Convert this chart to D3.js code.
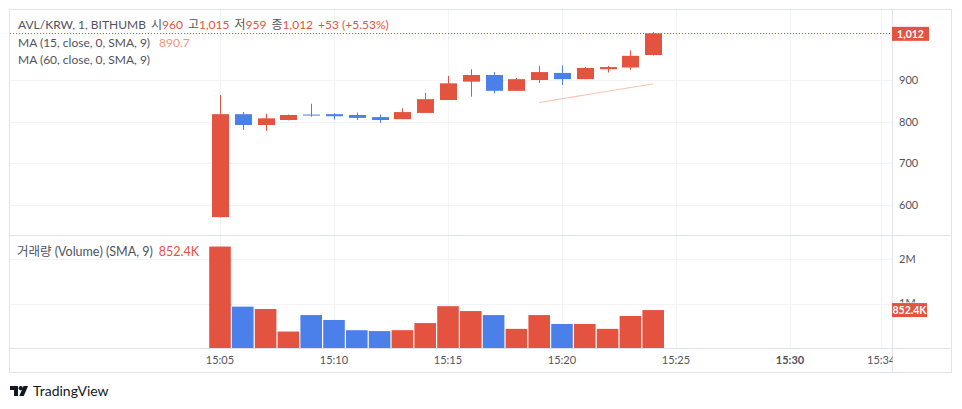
<!DOCTYPE html>
<html><head><meta charset="utf-8">
<script src="https://cdn.jsdelivr.net/npm/d3@7"></script>
<style>body{margin:0;background:#fff} svg{display:block}</style>
</head><body><svg id="c" width="962" height="409"></svg>
<script>
// ---- data ----
const times = ["15:05","15:06","15:07","15:08","15:09","15:10","15:11","15:12","15:13","15:14",
               "15:15","15:16","15:17","15:18","15:19","15:20","15:21","15:22","15:23","15:24"];
const openP  = [571,818,792,804,817,818,816,811,806,821,852,896,912,874,900,917,902,926,930,960];
const highP  = [864,823,819,817,843,820,822,817,832,869,910,926,919,905,934,935,931,934,971,1015];
const lowP   = [570,780,778,803,812,805,804,797,806,821,852,860,868,874,893,888,902,918,924,959];
const closeP = [818,792,808,816,815,813,809,804,823,854,892,912,874,902,919,902,929,931,958,1012];
const volume = [2280000,930000,876000,370000,740000,630000,400000,380000,400000,560000,
                940000,830000,740000,430000,740000,540000,540000,430000,720000,852400];
const maTimes = ["15:19","15:20","15:21","15:22","15:23","15:24"];
const ma15    = [846,855,864,873,882,890.7];
const priceTicks = [600,700,800,900];
const volTicks = [1000000,2000000];
const timeTicks = ["15:05","15:10","15:15","15:20","15:25","15:30","15:34"];
const boldTicks = ["15:30"];

// ---- setup ----
const UP = "#e4533f", DOWN = "#4b80ea", TXT = "#50535e", GRID = "#f2f3f5", BORDER = "#e0e3eb";
const FONT = "Lato, 'Noto Sans CJK KR', sans-serif";
const parseT = s => { const [h,m] = s.split(":").map(Number); return new Date(2024,0,1,h,m); };
const svg = d3.select("#c");

const frame = {l:9.5, t:9.5, r:951.5, b:372.5};
const axisX = 892.5;
const pricePane = {t:10, b:235.5};
const volPane = {t:236, b:348};

const x = d3.scaleTime().domain([parseT("15:05"), parseT("15:30")]).range([220, 790]);
const slot = x(parseT("15:06")) - x(parseT("15:05"));
const y = d3.scaleLinear().domain([600, 900]).range([205, 80]);
const yv = d3.scaleLinear().domain([0, 2000000]).range([348, 259]);

// clip paths
const defs = svg.append("defs");
defs.append("clipPath").attr("id","cp").append("rect").attr("x",10).attr("y",pricePane.t).attr("width",axisX-10).attr("height",pricePane.b-pricePane.t);
defs.append("clipPath").attr("id","cv").append("rect").attr("x",10).attr("y",volPane.t).attr("width",axisX-10).attr("height",volPane.b-volPane.t);
defs.append("clipPath").attr("id","ct").append("rect").attr("x",10).attr("y",348).attr("width",axisX-10).attr("height",24);
defs.append("clipPath").attr("id","c1m").append("rect").attr("x",893).attr("y",290).attr("width",50).attr("height",12.5);

// grid
const gP = svg.append("g").attr("clip-path","url(#cp)");
gP.selectAll("line.h").data(priceTicks).join("line")
  .attr("x1",10).attr("x2",axisX).attr("y1",d=>Math.round(y(d))+0.5).attr("y2",d=>Math.round(y(d))+0.5)
  .attr("stroke",GRID);
const gV = svg.append("g").attr("clip-path","url(#cv)");
gV.selectAll("line.h").data(volTicks).join("line")
  .attr("x1",10).attr("x2",axisX).attr("y1",d=>Math.round(yv(d))+0.5).attr("y2",d=>Math.round(yv(d))+0.5)
  .attr("stroke",GRID);
[gP, gV].forEach((g,i) => {
  g.selectAll("line.v").data(timeTicks).join("line")
    .attr("x1",d=>Math.round(x(parseT(d)))+0.5).attr("x2",d=>Math.round(x(parseT(d)))+0.5)
    .attr("y1", i===0 ? pricePane.t : volPane.t).attr("y2", i===0 ? pricePane.b : volPane.b)
    .attr("stroke",GRID);
});

// frame and separators
svg.append("rect").attr("x",frame.l).attr("y",frame.t).attr("width",frame.r-frame.l).attr("height",frame.b-frame.t)
  .attr("fill","none").attr("stroke",BORDER);
svg.append("line").attr("x1",axisX).attr("x2",axisX).attr("y1",frame.t).attr("y2",frame.b).attr("stroke",BORDER);
svg.append("line").attr("x1",frame.l).attr("x2",frame.r).attr("y1",235.5).attr("y2",235.5).attr("stroke",BORDER);
svg.append("line").attr("x1",frame.l).attr("x2",frame.r).attr("y1",348.5).attr("y2",348.5).attr("stroke",BORDER);

// candles
const data = times.map((t,i)=>({t:parseT(t), o:openP[i], h:highP[i], l:lowP[i], c:closeP[i], v:volume[i]}));
const col = d => d.c >= d.o ? UP : DOWN;
const bodyW = 17;
const cg = gP.append("g");
cg.selectAll("line.wick").data(data).join("line")
  .attr("x1",d=>Math.round(x(d.t))+0.5).attr("x2",d=>Math.round(x(d.t))+0.5)
  .attr("y1",d=>y(d.h)).attr("y2",d=>y(d.l)).attr("stroke",col);
cg.selectAll("rect").data(data).join("rect")
  .attr("x",d=>Math.round(x(d.t))-8).attr("width",bodyW)
  .attr("y",d=>y(Math.max(d.o,d.c))).attr("height",d=>Math.max(1,Math.abs(y(d.o)-y(d.c))))
  .attr("fill",col);

// MA line
const maData = maTimes.map((t,i)=>({t:parseT(t), v:ma15[i]}));
gP.append("path").datum(maData)
  .attr("d", d3.line().x(d=>x(d.t)).y(d=>y(d.v)).curve(d3.curveMonotoneX))
  .attr("fill","none").attr("stroke","#f9c2b2").attr("stroke-width",1.1);

// last price dotted line
const last = data[data.length-1];
svg.append("line").attr("x1",10).attr("x2",axisX).attr("y1",Math.round(y(last.c))+0.5).attr("y2",Math.round(y(last.c))+0.5)
  .attr("stroke",UP).attr("stroke-dasharray","1,2");

// volume bars
gV.selectAll("rect").data(data).join("rect")
  .attr("x",d=>x(d.t)-slot/2+0.6).attr("width",slot-1.2)
  .attr("y",d=>yv(d.v)).attr("height",d=>yv(0)-yv(d.v)).attr("fill",col);

// price axis labels
svg.append("g").selectAll("text").data(priceTicks).join("text")
  .attr("x",899).attr("y",d=>y(d)).attr("dy","0.35em").text(d=>d)
  .attr("font-family",FONT).attr("font-size",11).attr("fill",TXT);
// 2M label fully, 1M label partially hidden behind the volume badge (as in reference)
svg.append("text").attr("x",899).attr("y",yv(volTicks[1])).attr("dy","0.35em").text(d3.format("~s")(volTicks[1]))
  .attr("font-family",FONT).attr("font-size",11).attr("fill",TXT);
svg.append("text").attr("x",899).attr("y",yv(volTicks[0])).attr("dy","0.35em").text(d3.format("~s")(volTicks[0]))
  .attr("clip-path","url(#c1m)")
  .attr("font-family",FONT).attr("font-size",11).attr("fill",TXT);

// last price badge
const fmt = d3.format(",");
svg.append("rect").attr("x",892).attr("y",y(last.c)-6.5).attr("width",37).attr("height",14).attr("fill",UP);
svg.append("text").attr("x",910.5).attr("y",y(last.c)+0.5).attr("dy","0.35em").attr("text-anchor","middle")
  .text(fmt(last.c)).attr("font-family",FONT).attr("font-size",10.5).attr("font-weight","bold").attr("fill","#fff");
// volume badge
const vfmt = v => (v/1000).toFixed(1)+"K";
svg.append("rect").attr("x",892).attr("y",yv(last.v)-7).attr("width",35).attr("height",14).attr("fill",UP);
svg.append("text").attr("x",909.5).attr("y",yv(last.v)).attr("dy","0.35em").attr("text-anchor","middle")
  .text(vfmt(last.v)).attr("font-family",FONT).attr("font-size",10.5).attr("font-weight","bold").attr("fill","#fff");

// time axis
svg.append("g").attr("clip-path","url(#ct)").selectAll("text").data(timeTicks).join("text")
  .attr("x",d=>x(parseT(d))).attr("y",360).attr("dy","0.35em").attr("text-anchor","middle").text(d=>d)
  .attr("font-family",FONT).attr("font-size",11).attr("fill",TXT)
  .attr("font-weight",d=>boldTicks.includes(d)?"bold":"normal");

// legend texts
const leg = svg.append("text").attr("x",18).attr("y",25).attr("dy","0.35em")
  .attr("font-family",FONT).attr("font-size",12).attr("fill",TXT);
leg.append("tspan").text("AVL/KRW, 1, BITHUMB");
leg.append("tspan").attr("dx",5).text("시");
leg.append("tspan").attr("fill",UP).text(fmt(last.o));
leg.append("tspan").attr("dx",5).text("고");
leg.append("tspan").attr("fill",UP).text(fmt(last.h));
leg.append("tspan").attr("dx",5).text("저");
leg.append("tspan").attr("fill",UP).text(fmt(last.l));
leg.append("tspan").attr("dx",5).text("종");
leg.append("tspan").attr("fill",UP).text(fmt(last.c));
leg.append("tspan").attr("dx",5).attr("fill",UP).text("+53 (+5.53%)");

const l2 = svg.append("text").attr("x",18).attr("y",42.5).attr("dy","0.35em")
  .attr("font-family",FONT).attr("font-size",12).attr("fill",TXT);
l2.append("tspan").text("MA (15, close, 0, SMA, 9)");
l2.append("tspan").attr("dx",9).attr("fill","#f0937a").text(ma15[ma15.length-1]);
svg.append("text").attr("x",18).attr("y",60).attr("dy","0.35em")
  .attr("font-family",FONT).attr("font-size",12).attr("fill",TXT).text("MA (60, close, 0, SMA, 9)");

const l3 = svg.append("text").attr("x",17).attr("y",252).attr("dy","0.35em")
  .attr("font-family",FONT).attr("font-size",12.5).attr("fill",TXT);
l3.append("tspan").text("거래량 (Volume) (SMA, 9)");
l3.append("tspan").attr("dx",6).attr("fill",UP).text(vfmt(last.v));

// TradingView logo
const logo = svg.append("g").attr("fill","#131722");
logo.append("path").attr("d","M10,386 H18 V396 H14 V390 H10 Z");
logo.append("circle").attr("cx",20.8).attr("cy",388.2).attr("r",2.1);
logo.append("path").attr("d","M23.5,386 H28 L23.8,396 H19.3 Z");
svg.append("text").attr("x",33).attr("y",391).attr("dy","0.35em")
  .attr("font-family",FONT).attr("font-size",14).attr("fill","#131722").text("TradingView");
</script></body></html>
